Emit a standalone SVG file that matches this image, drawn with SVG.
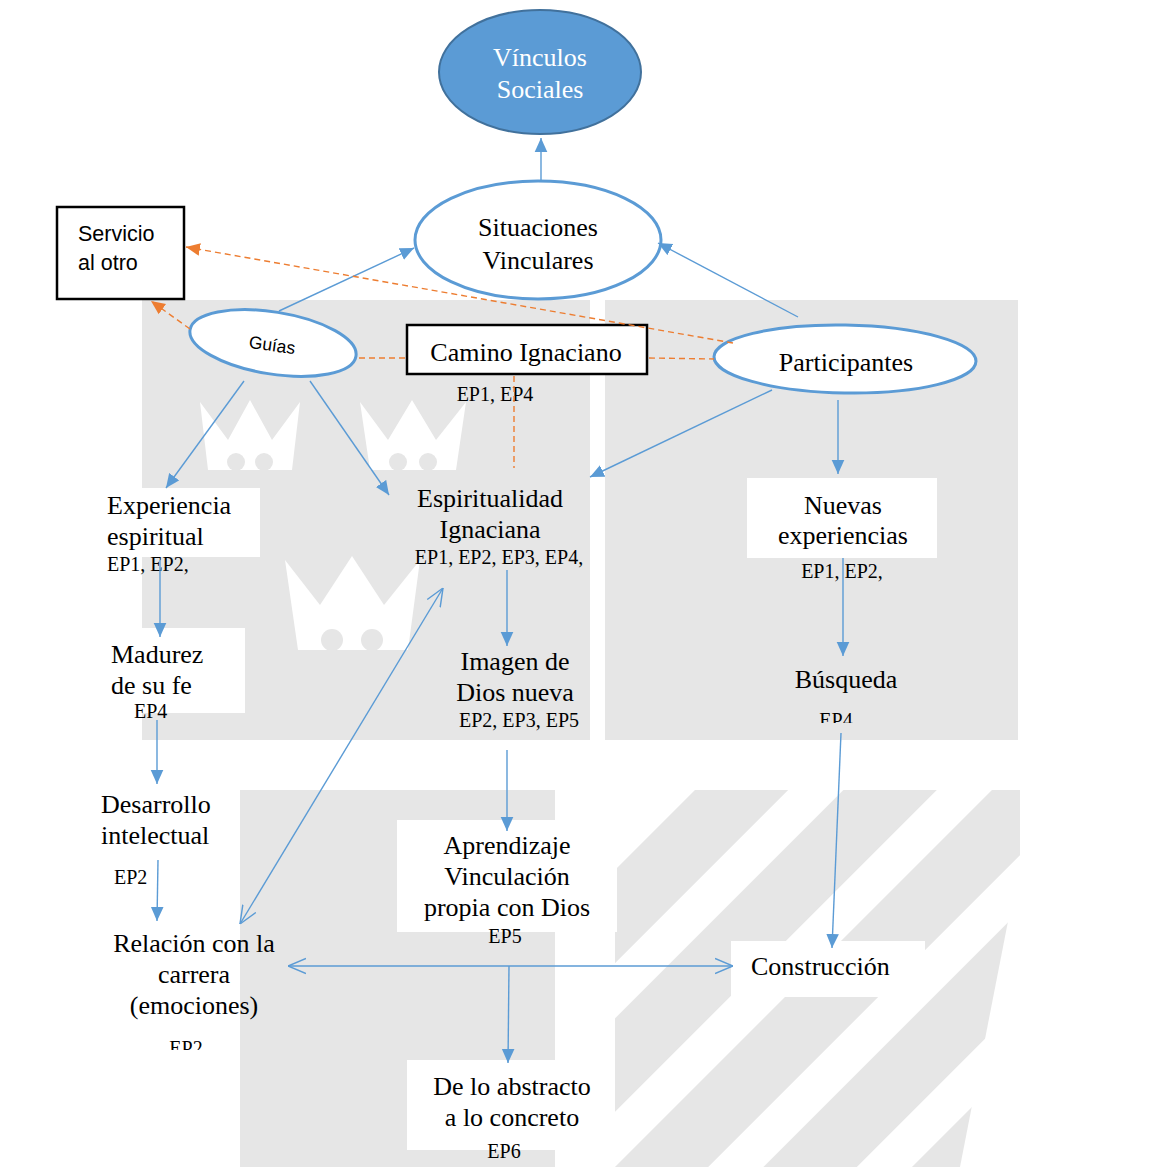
<svg xmlns="http://www.w3.org/2000/svg" width="1150" height="1167" viewBox="0 0 1150 1167">
<style>
.t{font-family:"Liberation Serif","Times New Roman",serif;font-size:26px;fill:#000}
.ep{font-family:"Liberation Serif","Times New Roman",serif;font-size:20px;fill:#000}
.s{font-family:"Liberation Sans",Arial,sans-serif;fill:#000}
.c{text-anchor:middle}
.bl{stroke:#5b9bd5;stroke-width:1.4;fill:none}
.or{stroke:#ed7d31;stroke-width:1.4;fill:none;stroke-dasharray:6 4}
.wb{fill:#fff}
.wm{fill:#e6e6e6}
</style>
<defs>
<marker id="ab" viewBox="0 0 10 10" refX="10" refY="5" markerWidth="14" markerHeight="14" markerUnits="userSpaceOnUse" orient="auto"><path d="M0,0.5 L10,5 L0,9.5 z" fill="#5b9bd5"/></marker>
<marker id="ao" viewBox="0 0 10 10" refX="10" refY="5" markerWidth="14" markerHeight="14" markerUnits="userSpaceOnUse" orient="auto"><path d="M0,0.5 L10,5 L0,9.5 z" fill="#ed7d31"/></marker>
<marker id="av" viewBox="0 0 10 10" refX="10" refY="5" markerWidth="18" markerHeight="18" markerUnits="userSpaceOnUse" orient="auto-start-reverse"><path d="M0,0.8 L10,5 L0,9.2" fill="none" stroke="#5b9bd5" stroke-width="0.8"/></marker>
<pattern id="stripes" patternUnits="userSpaceOnUse" width="105" height="105" patternTransform="rotate(45)"><rect x="0" y="0" width="66" height="105" fill="#e6e6e6"/></pattern>
<clipPath id="c1"><rect x="0" y="0" width="1150" height="1050"/></clipPath>
<clipPath id="c2"><rect x="0" y="0" width="1150" height="723"/></clipPath>
</defs>
<rect width="1150" height="1167" fill="#fff"/>
<g id="watermark">
<rect class="wm" x="142" y="300" width="448" height="440"/>
<rect class="wm" x="605" y="300" width="413" height="440"/>
<path class="wb" d="M200,402 L228,440 L250,400 L272,440 L300,402 L292,470 L208,470 Z"/>
<path class="wb" d="M360,402 L388,440 L412,400 L436,440 L466,402 L456,470 L370,470 Z"/>
<path class="wb" d="M285,560 L320,605 L352,556 L384,605 L420,560 L408,650 L298,650 Z"/>
<circle cx="236" cy="462" r="9" class="wm"/><circle cx="264" cy="462" r="9" class="wm"/>
<circle cx="398" cy="462" r="9" class="wm"/><circle cx="428" cy="462" r="9" class="wm"/>
<circle cx="332" cy="640" r="11" class="wm"/><circle cx="372" cy="640" r="11" class="wm"/>
<path class="wm" d="M240,790 L555,790 L555,1167 L240,1167 Z"/>
<path fill="url(#stripes)" d="M615,830 L650,790 L1020,790 L1020,860 L960,1167 L615,1167 Z"/>
</g>
<g id="vinculos">
<ellipse cx="540" cy="72" rx="101" ry="62" fill="#5b9bd5" stroke="#41719c" stroke-width="2"/>
<text class="t c" x="540" y="66" style="fill:#fff">Vínculos</text>
<text class="t c" x="540" y="98" style="fill:#fff">Sociales</text>
</g>
<g id="situaciones">
<ellipse cx="538" cy="240" rx="123" ry="59" fill="#fff" stroke="#5b9bd5" stroke-width="3"/>
<text class="t c" x="538" y="236">Situaciones</text>
<text class="t c" x="538" y="269">Vinculares</text>
</g>
<g id="servicio">
<rect x="57" y="207" width="127" height="92" fill="#fff" stroke="#000" stroke-width="2.5"/>
<text class="s" x="78" y="241" font-size="21.5">Servicio</text>
<text class="s" x="78" y="270" font-size="21.5">al otro</text>
</g>
<g id="guias">
<ellipse cx="273" cy="343" rx="84" ry="31" transform="rotate(9 273 343)" fill="#fff" stroke="#5b9bd5" stroke-width="3"/>
<text class="s c" x="272" y="351" font-size="17.5" transform="rotate(8 272 346)">Guías</text>
</g>
<g id="camino">
<rect x="407" y="325" width="240" height="49" fill="#fff" stroke="#000" stroke-width="2.5"/>
<text class="t c" x="526" y="361">Camino Ignaciano</text>
<text class="ep c" x="495" y="401">EP1, EP4</text>
</g>
<g id="participantes">
<ellipse cx="845" cy="359" rx="131" ry="34" transform="rotate(1 845 359)" fill="#fff" stroke="#5b9bd5" stroke-width="3"/>
<text class="t c" x="846" y="371">Participantes</text>
</g>
<g id="experiencia">
<rect class="wb" x="90" y="488" width="170" height="69"/>
<text class="t" x="107" y="514">Experiencia</text>
<text class="t" x="107" y="545">espiritual</text>
<text class="ep" x="107" y="571">EP1, EP2,</text>
</g>
<g id="espiritualidad">
<text class="t c" x="490" y="507">Espiritualidad</text>
<text class="t c" x="490" y="538">Ignaciana</text>
<text class="ep c" x="499" y="564">EP1, EP2, EP3, EP4,</text>
</g>
<g id="nuevas">
<rect class="wb" x="747" y="478" width="190" height="80"/>
<text class="t c" x="843" y="514">Nuevas</text>
<text class="t c" x="843" y="544">experiencias</text>
<text class="ep c" x="842" y="578">EP1, EP2,</text>
</g>
<g id="madurez">
<rect class="wb" x="91" y="628" width="154" height="85"/>
<text class="t" x="111" y="663">Madurez</text>
<text class="t" x="111" y="694">de su fe</text>
<text class="ep" x="134" y="718">EP4</text>
</g>
<g id="imagen">
<text class="t c" x="515" y="670">Imagen de</text>
<text class="t c" x="515" y="701">Dios nueva</text>
<text class="ep c" x="519" y="727">EP2, EP3, EP5</text>
</g>
<g id="busqueda">
<text class="t c" x="846" y="688">Búsqueda</text>
<text class="ep c" x="836" y="727" clip-path="url(#c2)">EP4</text>
</g>
<g id="desarrollo">
<rect class="wb" x="82" y="787" width="158" height="73"/>
<text class="t" x="101" y="813">Desarrollo</text>
<text class="t" x="101" y="844">intelectual</text>
<text class="ep" x="114" y="884">EP2</text>
</g>
<g id="aprendizaje">
<rect class="wb" x="397" y="820" width="220" height="112"/>
<text class="t c" x="507" y="854">Aprendizaje</text>
<text class="t c" x="507" y="885">Vinculación</text>
<text class="t c" x="507" y="916">propia con Dios</text>
<text class="ep c" x="505" y="943">EP5</text>
</g>
<g id="relacion">
<text class="t c" x="194" y="952">Relación con la</text>
<text class="t c" x="194" y="983">carrera</text>
<text class="t c" x="194" y="1014">(emociones)</text>
<text class="ep c" x="186" y="1055" clip-path="url(#c1)">EP2</text>
</g>
<g id="construccion">
<rect class="wb" x="731" y="941" width="194" height="56"/>
<text class="t" x="751" y="975">Construcción</text>
</g>
<g id="abstracto">
<rect class="wb" x="407" y="1060" width="185" height="90"/>
<text class="t c" x="512" y="1095">De lo abstracto</text>
<text class="t c" x="512" y="1126">a lo concreto</text>
<text class="ep c" x="504" y="1158">EP6</text>
</g>
<g id="connectors">
<line class="bl" x1="541" y1="181" x2="541" y2="138" marker-end="url(#ab)"/>
<line class="bl" x1="279" y1="311" x2="414" y2="248" marker-end="url(#ab)"/>
<line class="bl" x1="798" y1="317" x2="658" y2="243" marker-end="url(#ab)"/>
<line class="bl" x1="244" y1="381" x2="166" y2="488" marker-end="url(#ab)"/>
<line class="bl" x1="310" y1="381" x2="389" y2="495" marker-end="url(#ab)"/>
<line class="bl" x1="772" y1="390" x2="590" y2="477" marker-end="url(#ab)"/>
<line class="bl" x1="838" y1="400" x2="838" y2="474" marker-end="url(#ab)"/>
<line class="bl" x1="160" y1="560" x2="160" y2="637" marker-end="url(#ab)"/>
<line class="bl" x1="157" y1="720" x2="157" y2="784" marker-end="url(#ab)"/>
<line class="bl" x1="158" y1="860" x2="157" y2="921" marker-end="url(#ab)"/>
<line class="bl" x1="507" y1="570" x2="507" y2="646" marker-end="url(#ab)"/>
<line class="bl" x1="507" y1="750" x2="507" y2="831" marker-end="url(#ab)"/>
<line class="bl" x1="843" y1="558" x2="843" y2="656" marker-end="url(#ab)"/>
<line class="bl" x1="841" y1="733" x2="832" y2="948" marker-end="url(#ab)"/>
<line class="bl" x1="240" y1="924" x2="443" y2="588" marker-start="url(#av)" marker-end="url(#av)"/>
<line class="bl" x1="288" y1="966" x2="733" y2="966" marker-start="url(#av)" marker-end="url(#av)"/>
<line class="bl" x1="509" y1="966" x2="508" y2="1063" marker-end="url(#ab)"/>
<line class="or" x1="733" y1="343" x2="186" y2="247" marker-end="url(#ao)"/>
<line class="or" x1="190" y1="329" x2="151" y2="301" marker-end="url(#ao)"/>
<line class="or" x1="359" y1="358" x2="405" y2="358"/>
<line class="or" x1="649" y1="358" x2="714" y2="359"/>
<line class="or" x1="514" y1="376" x2="514" y2="468"/>
</g>
</svg>
